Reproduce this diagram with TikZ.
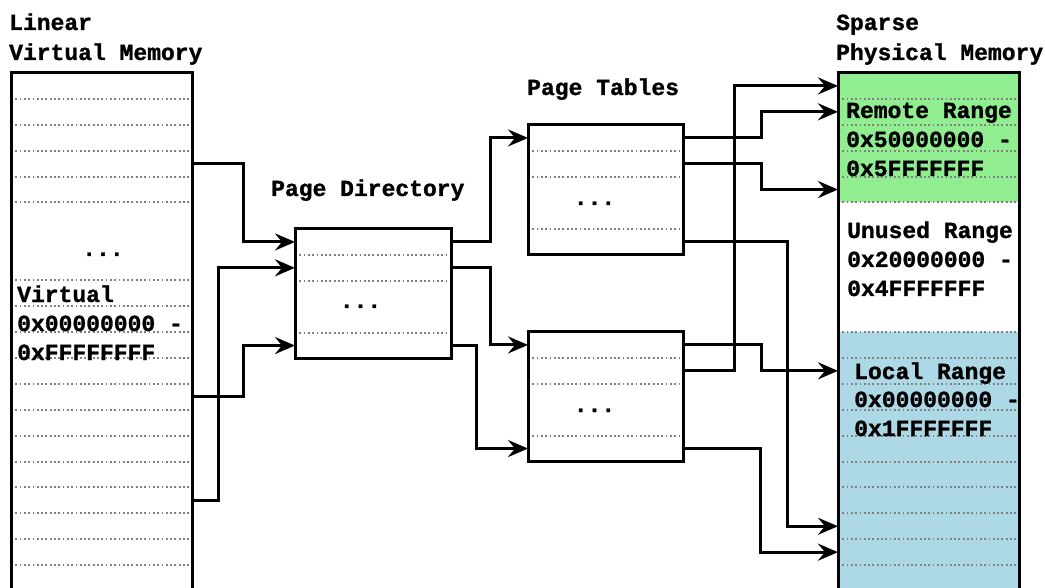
\documentclass[tikz,border=0pt]{standalone}
\usepackage{fontspec}
\newfontfamily\cour[BoldFeatures={FakeBold=1.2}]{Liberation Mono}
\usetikzlibrary{arrows.meta,calc,fit}

\definecolor{remotegreen}{RGB}{144,238,144}
\definecolor{localblue}{RGB}{173,216,230}

\tikzset{
  x=1pt, y=-1pt,
  lbl/.style={font=\cour\bfseries\fontsize{23}{29}\selectfont, inner sep=0pt, anchor=base west, text=black},
  ellip/.style={font=\cour\bfseries\fontsize{23}{29}\selectfont, inner sep=0pt, anchor=base, text=black},
  cell/.style={inner sep=0pt, outer sep=0pt, minimum height=25.9pt},
  sepline/.style={black!50, line width=2pt, dash pattern=on 1.8pt off 2.5pt},
  frame/.style={draw=black, line width=3pt, inner sep=0pt, outer sep=0pt},
  conn/.style={draw=black, line width=3pt, -{Stealth[length=20pt,width=17pt,inset=7pt]}},
}

\begin{document}
\begin{tikzpicture}
\useasboundingbox (0,0) rectangle (1045,588);
\clip (0,0) rectangle (1045,588);

% ---- row cells of each table ----
\foreach \i in {0,...,20}{
  \node[cell, minimum width=181pt] (vm-\i) at (101.5, 73+25.9*\i+12.95) {};
  \node[cell, minimum width=181pt] (pm-\i) at (928.5, 73+25.9*\i+12.95) {};
}
\foreach \i in {0,...,4}{
  \node[cell, minimum width=156pt] (pd-\i)  at (373,   229+25.9*\i+12.95) {};
  \node[cell, minimum width=155pt] (pt1-\i) at (605.5, 125+25.9*\i+12.95) {};
  \node[cell, minimum width=155pt] (pt2-\i) at (605.5, 332+25.9*\i+12.95) {};
}

% ---- physical memory regions ----
\fill[remotegreen] (pm-0.north west) rectangle (pm-4.south east);
\fill[white] (pm-5.north west) rectangle (pm-9.south east);
\fill[localblue] (pm-10.north west) rectangle (pm-20.south east);

% ---- dotted row separators ----
\foreach \k in {1,2,3,4,5,8,9,10,11,12,13,14,15,16,17,18,19,20}
  \draw[sepline] (vm-\k.north west) -- (vm-\k.north east);
\foreach \k in {1,2,3,4,5,10,11,12,13,14,15,16,17,18,19,20}
  \draw[sepline] (pm-\k.north west) -- (pm-\k.north east);
\foreach \k in {1,2,4}{
  \draw[sepline] (pd-\k.north west) -- (pd-\k.north east);
  \draw[sepline] (pt1-\k.north west) -- (pt1-\k.north east);
  \draw[sepline] (pt2-\k.north west) -- (pt2-\k.north east);
}

% ---- outer frames ----
\node[frame, fit=(vm-0)(vm-20)] (vm) {};
\node[frame, fit=(pm-0)(pm-20)] (pm) {};
\node[frame, fit=(pd-0)(pd-4)] (pd) {};
\node[frame, fit=(pt1-0)(pt1-4)] (pt1) {};
\node[frame, fit=(pt2-0)(pt2-4)] (pt2) {};

% ---- titles ----
\node[lbl] (t-lin) at (9,30) {Linear};
\node[lbl] (t-vm) at (9,60) {Virtual Memory};
\node[lbl] (t-pd) at (271,196) {Page Directory};
\node[lbl] (t-pt) at (527,95) {Page Tables};
\node[lbl] (t-sp) at (836,30) {Sparse};
\node[lbl] (t-pm) at (836,60) {Physical Memory};

% ---- contents ----
\node[ellip] (vm-dots) at (103,256) {...};
\node[ellip] (pd-dots) at (360.5,308) {...};
\node[ellip] (pt1-dots) at (594.5,205) {...};
\node[ellip] (pt2-dots) at (594.5,412) {...};

\node[lbl] (vm-l1) at (17,302) {Virtual};
\node[lbl] (vm-l2) at (17,331) {0x00000000 -};
\node[lbl] (vm-l3) at (17,360) {0xFFFFFFFF};

\node[lbl] (rr-1) at (846,118) {Remote Range};
\node[lbl] (rr-2) at (846,147) {0x50000000 -};
\node[lbl] (rr-3) at (846,176) {0x5FFFFFFF};

\node[lbl] (ur-1) at (847,238) {Unused Range};
\node[lbl] (ur-2) at (847,267) {0x20000000 -};
\node[lbl] (ur-3) at (847,296) {0x4FFFFFFF};

\node[lbl] (lr-1) at (854,379) {Local Range};
\node[lbl] (lr-2) at (854,407) {0x00000000 -};
\node[lbl] (lr-3) at (854,436) {0x1FFFFFFF};

% ---- connectors ----
\draw[conn] (vm-3.east)  -- ++(51,0) |- (pd-0.west);
\draw[conn] (vm-12.east) -- ++(51,0) |- (pd-4.west);
\draw[conn] (vm-16.east) -- ++(26,0) |- (pd-1.west);

\draw[conn] (pd-0.east) -- ++(39,0) |- (pt1-0.west);
\draw[conn] (pd-1.east) -- ++(39,0) |- (pt2-0.west);
\draw[conn] (pd-4.east) -- ++(25,0) |- (pt2-4.west);

\draw[conn] (pt1-0.east) -- ++(78,0)  |- (pm-1.west);
\draw[conn] (pt1-1.east) -- ++(78,0)  |- (pm-4.west);
\draw[conn] (pt1-4.east) -- ++(104,0) |- (pm-17.west);
\draw[conn] (pt2-0.east) -- ++(78,0)  |- (pm-11.west);
\draw[conn] (pt2-1.east) -- ++(51,0)  |- (pm-0.west);
\draw[conn] (pt2-4.east) -- ++(77,0)  |- (pm-18.west);
\end{tikzpicture}
\end{document}
